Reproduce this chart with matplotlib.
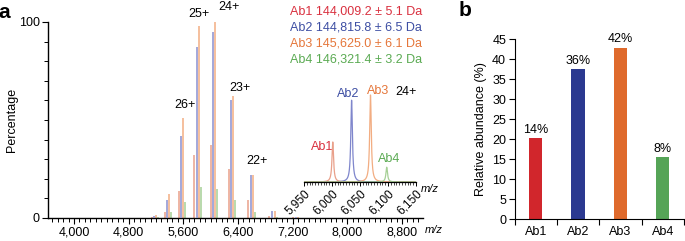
import numpy as np
import matplotlib
matplotlib.use("Agg")
import matplotlib.pyplot as plt
from matplotlib.ticker import MultipleLocator, FixedLocator, FuncFormatter

plt.rcParams['font.family'] = ['Liberation Sans', 'DejaVu Sans']

# ---------------- data ----------------
antibodies = ["Ab1", "Ab2", "Ab3", "Ab4"]
masses = [144009.2, 144815.8, 145625.0, 146321.4]
mass_err = [5.1, 6.5, 6.1, 3.2]
charges = [28, 27, 26, 25, 24, 23, 22, 21, 20]
# peak heights (%) for each charge state, per antibody
h_ab1 = [0.5, 3, 14, 32, 37, 25, 9, 1.0, 0.3]
h_ab2 = [1.0, 9, 42, 87, 95, 60, 22, 3.5, 0.6]
h_ab3 = [1.5, 12, 51, 98, 100, 62, 22, 3.5, 0.6]
h_ab4 = [0.5, 3, 8, 16, 15, 9, 3, 0.5, 0.2]
heights = [h_ab1, h_ab2, h_ab3, h_ab4]
charge_labels = ["26+", "25+", "24+", "23+", "22+"]

inset_charge = 24
inset_heights = [46, 94, 100, 17]

abundance = [20.2, 37.5, 42.8, 15.4]
abundance_labels = ["14%", "36%", "42%", "8%"]

proton = 1.00728

text_cols = ['#d9303f', '#3d4ea3', '#e5763a', '#5aaa52']
line_cols = ['#e9a08a', '#8a8fd0', '#f2ad82', '#a6d096']
bar_cols = ['#d1262c', '#2b3990', '#df6a2c', '#55a457']

fs = 9

fig = plt.figure(figsize=(6.85, 2.41), dpi=100)

def fx(px):
    return px / 685.0

def fy(py):
    return 1 - py / 241.0

# ---------------- panel a ----------------
ax = fig.add_axes([fx(48), fy(218), fx(423 - 48), fy(22) - fy(218)])
for i in range(4):
    mz = [(masses[i] + z * proton) / z for z in charges]
    ax.vlines(mz, 0, heights[i], colors=line_cols[i], lw=1.1, zorder=2 + (i == 1))
x0, x1 = 3620, 9107
ax.set_xlim(x0, x1)
ax.set_ylim(0, 100)
for s in ['top', 'right']:
    ax.spines[s].set_visible(False)
for s in ['left', 'bottom']:
    ax.spines[s].set_linewidth(1.0)
ax.xaxis.set_major_locator(FixedLocator([4000, 4800, 5600, 6400, 7200, 8000, 8800]))
ax.xaxis.set_minor_locator(MultipleLocator(80))
ax.xaxis.set_major_formatter(FuncFormatter(lambda v, p: f"{int(v):,}"))
ax.yaxis.set_major_locator(FixedLocator([0, 100]))
ax.yaxis.set_minor_locator(MultipleLocator(10))
ax.tick_params(axis='both', which='major', length=4, width=0.8, labelsize=fs, pad=2)
ax.tick_params(axis='both', which='minor', length=3, width=0.7)
ax.set_ylabel("Percentage", fontsize=fs)
ax.yaxis.set_label_coords(-0.08, 0.5)
ax.text(1.005, -0.062, "m/z", transform=ax.transAxes, fontsize=fs - 1, style='italic',
        ha='left', va='center', clip_on=False)

label_pos = [(5625, 57.6), (5830, 104), (6269, 107.5), (6430, 66.3), (6679, 29.1)]
for lab, (xx, yy) in zip(charge_labels, label_pos):
    ax.text(xx, yy, lab, fontsize=fs, ha='center', va='center', clip_on=False)

for i in range(4):
    ax.text(fx(290), fy(12 + 15.7 * i),
            f"{antibodies[i]} {masses[i]:,.1f} \u00b1 {mass_err[i]} Da",
            transform=fig.transFigure, fontsize=fs, color=text_cols[i],
            ha='left', va='center')

fig.text(fx(4.5), fy(13), "a", fontsize=15, fontweight='bold', ha='center', va='center')

# ---------------- inset ----------------
ax_in = fig.add_axes([fx(304), fy(182), fx(112), (91.4 / 241.0)])
ax_in.patch.set_alpha(0)
xs = np.linspace(5950, 6150, 2000)
gamma = 1.7
for i in range(4):
    c = (masses[i] + inset_charge * proton) / inset_charge
    prof = inset_heights[i] * gamma ** 2 / ((xs - c) ** 2 + gamma ** 2)
    ax_in.plot(xs, prof, color=line_cols[i] if i != 1 else '#7f86cc', lw=0.9)
ax_in.set_xlim(5950, 6150)
ax_in.set_ylim(0, 105)
for s in ['top', 'right', 'left']:
    ax_in.spines[s].set_visible(False)
ax_in.spines['bottom'].set_linewidth(0.9)
ax_in.set_yticks([])
ax_in.xaxis.set_major_locator(MultipleLocator(50))
ax_in.xaxis.set_minor_locator(MultipleLocator(5))
ax_in.xaxis.set_major_formatter(FuncFormatter(lambda v, p: f"{int(v):,}"))
ax_in.tick_params(axis='x', which='major', length=3, width=0.7, labelsize=fs - 0.5, pad=1)
ax_in.tick_params(axis='x', which='minor', length=2, width=0.5)
for t in ax_in.get_xticklabels():
    t.set_rotation(45)
    t.set_ha('right')
    t.set_rotation_mode('anchor')
inset_text = [("Ab1", 5983, 40.6, text_cols[0]), ("Ab2", 6028.6, 101, text_cols[1]),
              ("Ab3", 6082.7, 104, text_cols[2]), ("24+", 6132.5, 103, 'black'),
              ("Ab4", 6102.3, 26.4, text_cols[3])]
for lab, xx, yy, c in inset_text:
    ax_in.text(xx, yy, lab, fontsize=fs, color=c, ha='center', va='center', clip_on=False)
ax_in.text(6175, -8, "m/z", fontsize=fs - 1, style='italic', ha='center', va='center', clip_on=False)

# ---------------- panel b ----------------
bx = fig.add_axes([fx(514.5), fy(219), fx(684 - 514.5), fy(39) - fy(219)])
pos = np.arange(len(antibodies))
bx.bar(pos, abundance, width=0.31, color=bar_cols, zorder=2)
for p, v, lab in zip(pos, abundance, abundance_labels):
    bx.text(p, v + 0.6, lab, fontsize=fs, ha='center', va='bottom')
bx.set_xlim(-0.5, 3.5)
bx.set_ylim(0, 45)
bx.set_yticks(np.arange(0, 46, 5))
bx.xaxis.set_major_locator(FixedLocator([-0.5, 0.5, 1.5, 2.5, 3.5]))
bx.xaxis.set_major_formatter(FuncFormatter(lambda v, p: ""))
bx.xaxis.set_minor_locator(FixedLocator(pos))
bx.set_xticklabels(antibodies, minor=True)
bx.tick_params(axis='x', which='minor', length=0, labelsize=fs, pad=5)
bx.tick_params(axis='x', which='major', length=4, width=0.8)
bx.tick_params(axis='y', which='major', length=4, width=0.8, labelsize=fs, pad=2)
for s in ['top', 'right']:
    bx.spines[s].set_visible(False)
bx.set_ylabel("Relative abundance (%)", fontsize=fs, labelpad=4)

fig.text(fx(465), fy(11), "b", fontsize=15, fontweight='bold', ha='center', va='center')

fig.savefig("out.png", dpi=100)
